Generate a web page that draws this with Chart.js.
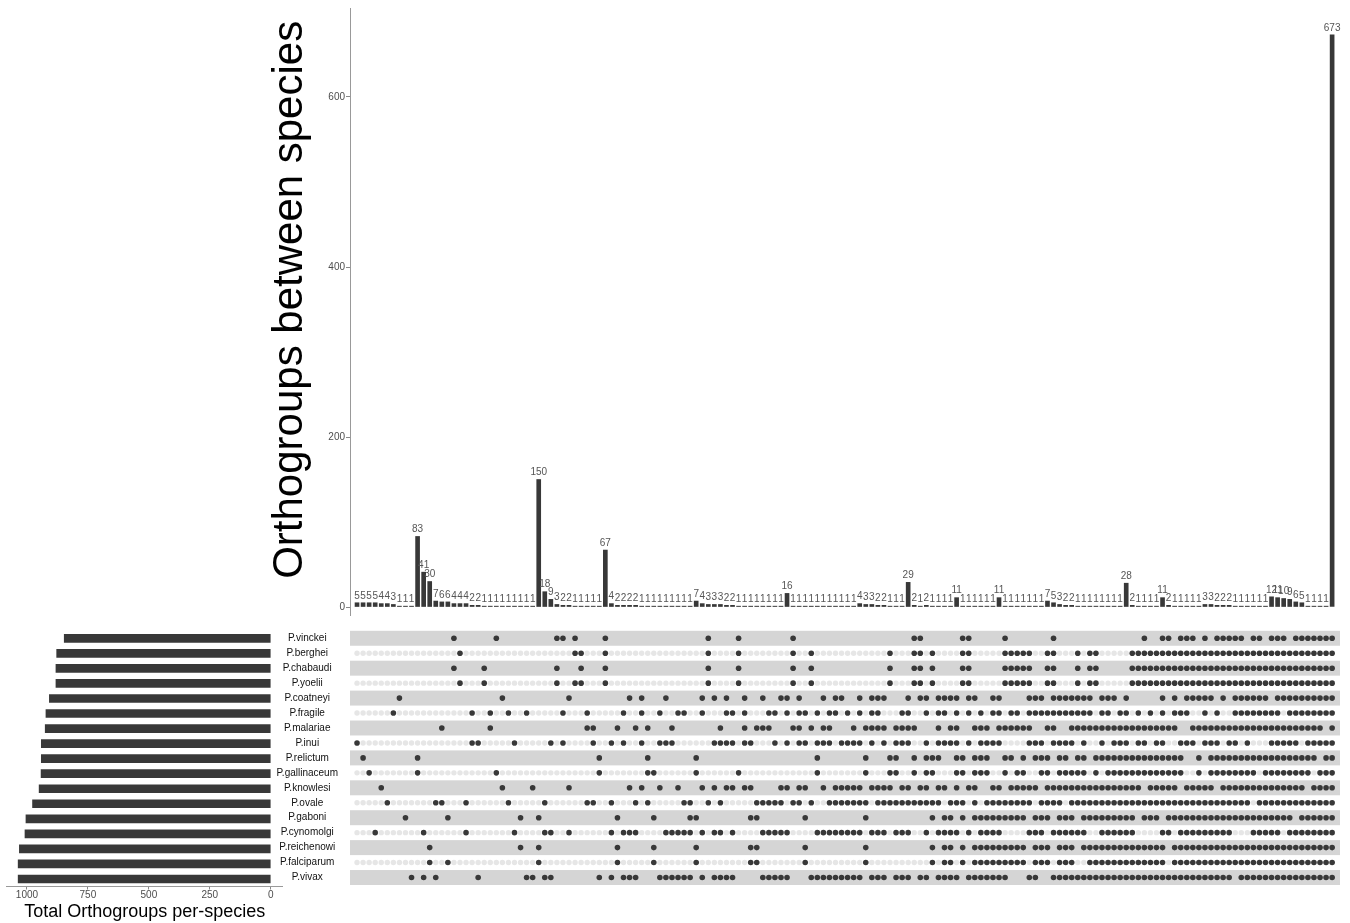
<!DOCTYPE html>
<html>
<head>
<meta charset="utf-8">
<script src="https://cdn.jsdelivr.net/npm/chart.js@4.4.1/dist/chart.umd.min.js"></script>
<style>
  body { margin: 0; background: #fff; width: 1350px; height: 923px; position: relative; overflow: hidden; }
  .box { position: absolute; }
</style>
</head>
<body>
<div class="box" style="left:265px;top:0;width:1085px;height:625px"><canvas id="barsChart"></canvas></div>
<div class="box" style="left:0;top:620px;width:300px;height:303px"><canvas id="setSizeChart"></canvas></div>
<div class="box" style="left:270px;top:620px;width:1080px;height:275px"><canvas id="matrixChart"></canvas></div>
<script>
// Species (matrix rows, top to bottom) and their total orthogroups
const speciesNames = ['P.vinckei', 'P.berghei', 'P.chabaudi', 'P.yoelii', 'P.coatneyi', 'P.fragile',
  'P.malariae', 'P.inui', 'P.relictum', 'P.gallinaceum', 'P.knowlesi', 'P.ovale', 'P.gaboni',
  'P.cynomolgi', 'P.reichenowi', 'P.falciparum', 'P.vivax'];
const speciesTotals = [847, 878, 881, 881, 908, 922, 925, 941, 941, 942, 950, 977, 1004, 1008, 1031, 1036, 1036];

// Intersection sizes, one per matrix column (left to right)
const intersectSizes = [
  5, 5, 5, 5, 4, 4, 3, 1, 1, 1,
  83, 41, 30, 7, 6, 6, 4, 4, 4, 2, 2, 1, 1, 1, 1, 1, 1, 1, 1, 1,
  150, 18, 9, 3, 2, 2, 1, 1, 1, 1, 1,
  67, 4, 2, 2, 2, 2, 1, 1, 1, 1, 1, 1, 1, 1, 1,
  7, 4, 3, 3, 3, 2, 2, 1, 1, 1, 1, 1, 1, 1, 1,
  16, 1, 1, 1, 1, 1, 1, 1, 1, 1, 1, 1,
  4, 3, 3, 2, 2, 1, 1, 1,
  29, 2, 1, 2, 1, 1, 1, 1,
  11, 1, 1, 1, 1, 1, 1,
  11, 1, 1, 1, 1, 1, 1, 1,
  7, 5, 3, 2, 2, 1, 1, 1, 1, 1, 1, 1, 1,
  28, 2, 1, 1, 1, 1,
  11, 2, 1, 1, 1, 1, 1, 3, 3, 2, 2, 2, 1, 1, 1, 1, 1, 1,
  12, 11, 10, 9, 6, 5, 1, 1, 1, 1,
  673
];

// Which columns each species belongs to (same order as speciesNames)
const memberCols = [
  '16,23,33,34,36,41,58,63,72,92,93,100,101,107,115,130,133,134,136-138,140,142-146,148,149,151-153,155-161',
  '17,36,37,41,58,63,72,75,88,92,93,95,100,101,107-111,114,115,119,121,122,128-161',
  '16,21,33,37,41,58,63,72,75,88,92,93,95,100,101,107-111,114,115,119,121,122,128-161',
  '17,21,33,36,37,41,58,63,72,75,88,92,93,95,100,101,107-111,114,115,119,121,122,128-161',
  '7,24,35,45,47,51,57,59,61,64,67,70,71,73,77,79,80,83,85-87,91,93,94,96-99,101,102,105,106,111-113,115-121,123-125,127,133,135,137-141,143,145-150,152-161',
  '6,19,22,25,28,34,38,44,47,50,53,54,57,61,62,64,68,69,71,73,74,76,78,79,81,83,85,86,90,91,94,96,97,99,101,103,105,106,108,109,111-121,123,124,126,127,129,131,133,135-137,140,142,145-152,154-161',
  '14,22,38,39,43,46,48,52,60,64,66-68,72,73,75,77,78,82,84-87,89-92,96,98,99,102-104,106-111,114,115,118-135,138-159,161',
  '0,19,20,26,32,34,39,42,44,47,50-52,59-62,64,65,69,71,73,74,76-78,80-83,85,87,89-91,94,96-99,101,103-106,111-113,115-118,120,123,125-127,129,130,132,133,136-138,140-142,144,145,147,151-155,157-161',
  '1,10,40,48,56,76,84,88,89,92,94-96,99,100,102-104,107,108,110,112-114,116,117,119,120,122-136,139,141-158,160,161',
  '2,10,23,40,48,49,56,63,76,84,88,89,92,94,95,99,100,102-104,107,109,110,113,114,116-120,122,124-136,139,141-148,150-157,159-161',
  '4,24,29,35,45,47,50,53,57,59,61,62,64,65,70,71,73,74,77,79-83,85-88,90,91,93,94,96,97,99,101,102,105,106,108-112,114-129,131-135,137-141,143-156,158-161',
  '5,13,14,18,25,31,38,39,42,46,48,54,55,58,60,66-70,72,73,75,78-84,86-96,98-100,102,104-111,113-116,118-147,149-161',
  '8,15,27,30,43,49,55,56,65,66,74,84,95,97,98,100,102-110,112-114,116-118,120-128,130-132,134-154,156-161',
  '3,11,18,26,31,32,35,42,44-46,51-55,57,59,60,62,67-71,76-83,85-87,89-91,94,96-99,101,103-106,111-113,115-120,123-128,133,134,136-144,148-152,154-161',
  '12,27,30,43,49,56,65,66,74,84,95,97,98,100,102-110,112-114,116-118,120-133,135-161',
  '12,15,30,43,49,56,65,66,74,84,95,97,98,100,102-110,112-114,116-118,121-133,135-161',
  '9,11,13,20,28,29,31,32,40,42,44-46,50-55,57,59-62,67-71,75-83,85-87,89-91,93,94,96-99,101-107,111,112,115-121,122-144,146-161'
];

const yTickValues = [0, 200, 400, 600];
const setSizeTicks = [0, 250, 500, 750, 1000];

function parseCols(spec) {
  const out = [];
  spec.split(',').forEach(part => {
    const [a, b] = part.split('-').map(Number);
    const end = isNaN(b) ? a : b;
    for (let c = a; c <= end; c++) if (!out.includes(c)) out.push(c);
  });
  return out;
}

const FONT = "'Liberation Sans', Arial, sans-serif";
const DARK = '#383838';
const X_MIN = -1.16, X_MAX = 162.3;

// --- Intersection size bars ---
const barLabels = {
  id: 'barLabels',
  afterDatasetsDraw(chart) {
    const ctx = chart.ctx;
    const meta = chart.getDatasetMeta(0);
    ctx.save();
    ctx.font = '10px ' + FONT;
    ctx.fillStyle = '#555';
    ctx.textAlign = 'center';
    ctx.textBaseline = 'bottom';
    meta.data.forEach((bar, i) => ctx.fillText(intersectSizes[i], bar.x, bar.y - 2));
    ctx.restore();
  }
};

new Chart(document.getElementById('barsChart'), {
  type: 'bar',
  data: {
    datasets: [{
      data: intersectSizes.map((v, i) => ({ x: i, y: v })),
      backgroundColor: DARK,
      barThickness: 4
    }]
  },
  options: {
    responsive: true,
    maintainAspectRatio: false,
    animation: false,
    events: [],
    layout: { padding: { left: 0, right: 10, top: 8, bottom: 10 } },
    plugins: { legend: { display: false }, tooltip: { enabled: false } },
    scales: {
      x: { type: 'linear', min: X_MIN, max: X_MAX, offset: false, display: false },
      y: {
        min: -9.4, max: 704.7,
        afterFit: s => { s.width = 85; },
        afterBuildTicks: s => { s.ticks = yTickValues.map(v => ({ value: v })); },
        grid: { drawOnChartArea: false, tickLength: 4, color: '#888' },
        border: { color: '#999' },
        ticks: { color: '#4d4d4d', font: { size: 10, family: FONT }, padding: 1 },
        title: {
          display: true,
          text: '  Orthogroups between species',
          color: '#000',
          font: { size: 42, family: FONT, lineHeight: 1.2 },
          padding: 0
        }
      }
    }
  },
  plugins: [barLabels]
});

// --- Set size bars (left) ---
new Chart(document.getElementById('setSizeChart'), {
  type: 'bar',
  data: {
    labels: speciesNames,
    datasets: [{ data: speciesTotals, backgroundColor: DARK, barThickness: 8 }]
  },
  options: {
    indexAxis: 'y',
    responsive: true,
    maintainAspectRatio: false,
    animation: false,
    events: [],
    layout: { padding: { left: 6.7, right: 17.3, top: 10.8, bottom: 0 } },
    plugins: { legend: { display: false }, tooltip: { enabled: false } },
    scales: {
      y: { type: 'category', display: false, offset: true },
      x: {
        type: 'linear', reverse: true, min: -49, max: 1083,
        afterFit: s => { s.height = 36.5; },
        afterBuildTicks: s => { s.ticks = setSizeTicks.map(v => ({ value: v })); },
        grid: { drawOnChartArea: false, tickLength: 3, color: '#888' },
        border: { color: '#999' },
        ticks: { color: '#4d4d4d', font: { size: 10, family: FONT }, padding: 0, maxRotation: 0, callback: v => String(v) },
        title: {
          display: true,
          text: 'Total Orthogroups per-species',
          color: '#000',
          font: { size: 18, family: FONT, lineHeight: 1.2 },
          padding: 0
        }
      }
    }
  }
});

// --- Membership matrix ---
const filledDots = [];
const emptyDots = [];
memberCols.forEach((spec, r) => {
  const cols = parseCols(spec);
  intersectSizes.forEach((_, c) => {
    if (cols.includes(c)) filledDots.push({ x: c, y: r });
    else if (r % 2 === 1) emptyDots.push({ x: c, y: r });
  });
});

const rowBands = {
  id: 'rowBands',
  beforeDatasetsDraw(chart) {
    const { ctx, chartArea, scales } = chart;
    ctx.save();
    ctx.fillStyle = '#d5d5d5';
    speciesNames.forEach((_, r) => {
      if (r % 2) return;
      const y0 = scales.y.getPixelForValue(r - 0.5);
      const y1 = scales.y.getPixelForValue(r + 0.5);
      ctx.fillRect(chartArea.left, Math.min(y0, y1), chartArea.right - chartArea.left, Math.abs(y1 - y0));
    });
    ctx.restore();
  }
};

new Chart(document.getElementById('matrixChart'), {
  type: 'scatter',
  data: {
    datasets: [
      { data: emptyDots, pointRadius: 2.7, pointBorderWidth: 0, pointBackgroundColor: '#e6e6e6' },
      { data: filledDots, pointRadius: 2.8, pointBorderWidth: 0, pointBackgroundColor: DARK }
    ]
  },
  options: {
    responsive: true,
    maintainAspectRatio: false,
    animation: false,
    events: [],
    layout: { padding: { left: 0, right: 10, top: 10.8, bottom: 8.5 } },
    plugins: { legend: { display: false }, tooltip: { enabled: false } },
    scales: {
      x: { type: 'linear', min: X_MIN, max: X_MAX, display: false },
      y: {
        type: 'linear', min: -0.5, max: 16.5, reverse: true,
        afterFit: s => { s.width = 80; },
        afterBuildTicks: s => { s.ticks = speciesNames.map((_, i) => ({ value: i })); },
        grid: { display: false },
        border: { display: false },
        ticks: {
          color: '#111',
          font: { size: 10, family: FONT },
          crossAlign: 'center',
          padding: 4,
          callback: v => speciesNames[v]
        }
      }
    }
  },
  plugins: [rowBands]
});
</script>
</body>
</html>
